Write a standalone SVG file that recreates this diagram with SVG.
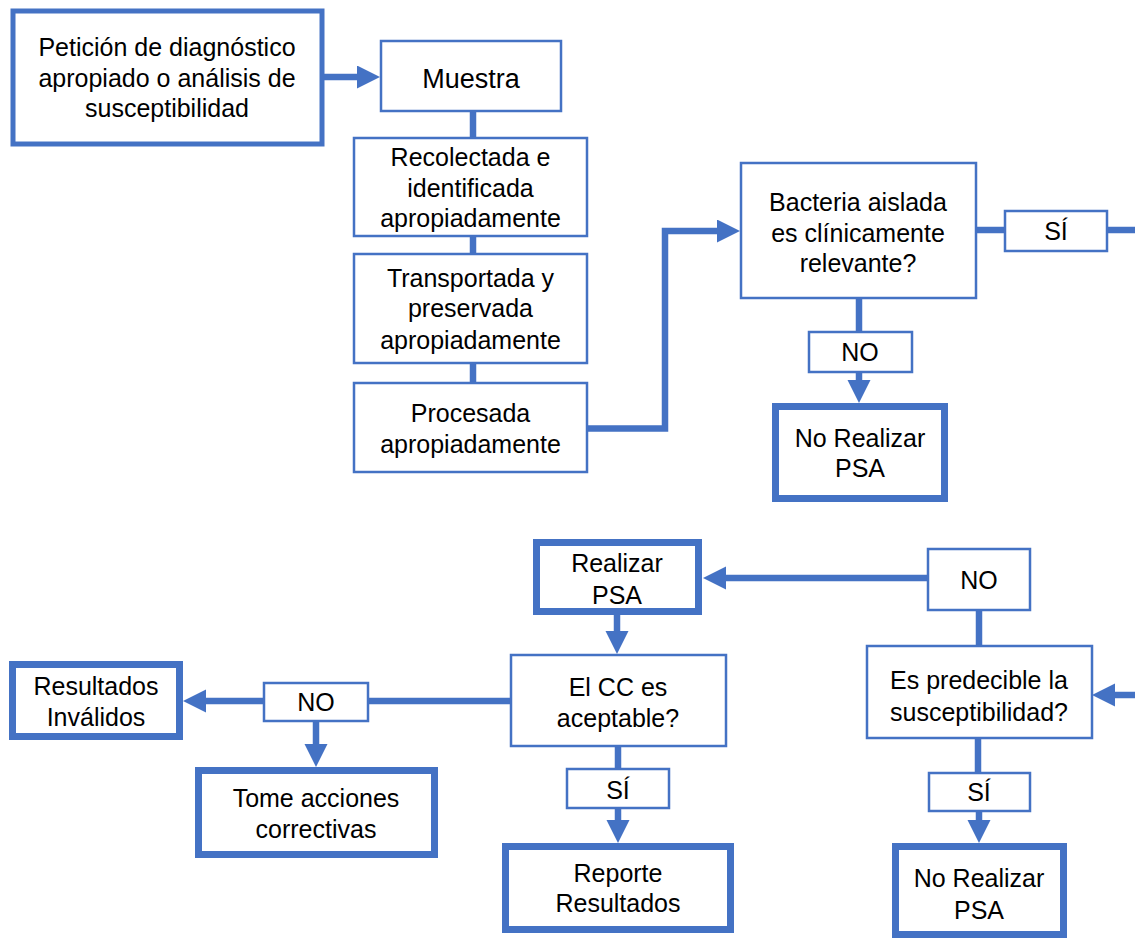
<svg xmlns="http://www.w3.org/2000/svg" width="1135" height="940" viewBox="0 0 1135 940">
<style>
.box{fill:#fff;stroke:#4472C4;stroke-width:2.5}
.thick{fill:#fff;stroke:#4472C4;stroke-width:7}
.first{fill:#fff;stroke:#4472C4;stroke-width:5}
.t{font-family:"Liberation Sans",Arial,sans-serif;font-size:25px;fill:#000;text-anchor:middle}
.c{fill:none;stroke:#4472C4;stroke-width:6.5;stroke-linecap:butt;stroke-linejoin:miter}
</style>
<defs>
<marker id="ah" markerUnits="userSpaceOnUse" markerWidth="24" markerHeight="24" refX="0" refY="11.5" orient="auto">
<path d="M0,0 L23,11.5 L0,23 z" fill="#4472C4"/>
</marker>
</defs>
<g id="connectors">
<path class="c" d="M324,77 H357" marker-end="url(#ah)"/>
<path class="c" d="M473,112 V138"/>
<path class="c" d="M473,236 V254"/>
<path class="c" d="M473,363 V383"/>
<path class="c" d="M588,428.5 H665 V231 H717" marker-end="url(#ah)"/>
<path class="c" d="M976,230 H1005"/>
<path class="c" d="M1107,230 H1135"/>
<path class="c" d="M859,298 V332"/>
<path class="c" d="M859,372 V380" marker-end="url(#ah)"/>
<path class="c" d="M928,578 H726" marker-end="url(#ah)"/>
<path class="c" d="M979,610 V646"/>
<path class="c" d="M1135,695 H1115" marker-end="url(#ah)"/>
<path class="c" d="M617,615 V631" marker-end="url(#ah)"/>
<path class="c" d="M511,701 H368"/>
<path class="c" d="M264,701 H206" marker-end="url(#ah)"/>
<path class="c" d="M316,721 V744" marker-end="url(#ah)"/>
<path class="c" d="M618,746 V769"/>
<path class="c" d="M618,808 V820" marker-end="url(#ah)"/>
<path class="c" d="M978,738 V773"/>
<path class="c" d="M979,811 V820" marker-end="url(#ah)"/>
</g>
<g id="peticion">
<rect class="first" x="13" y="11" width="309" height="133"/>
<text class="t" x="167" y="56">Petición de diagnóstico</text>
<text class="t" x="167" y="87">apropiado o análisis de</text>
<text class="t" x="167" y="117">susceptibilidad</text>
</g>
<g id="muestra">
<rect class="box" x="381" y="41" width="180" height="70"/>
<text class="t" x="471" y="88" style="font-size:27px">Muestra</text>
</g>
<g id="recolectada">
<rect class="box" x="354" y="138" width="233" height="98"/>
<text class="t" x="470.5" y="166">Recolectada e</text>
<text class="t" x="470.5" y="197">identificada</text>
<text class="t" x="470.5" y="227">apropiadamente</text>
</g>
<g id="transportada">
<rect class="box" x="354" y="254" width="233" height="109"/>
<text class="t" x="470.5" y="287">Transportada y</text>
<text class="t" x="470.5" y="317">preservada</text>
<text class="t" x="470.5" y="349">apropiadamente</text>
</g>
<g id="procesada">
<rect class="box" x="354" y="383" width="233" height="89"/>
<text class="t" x="470.5" y="422">Procesada</text>
<text class="t" x="470.5" y="453">apropiadamente</text>
</g>
<g id="bacteria">
<rect class="box" x="741" y="163" width="235" height="135"/>
<text class="t" x="858" y="211">Bacteria aislada</text>
<text class="t" x="858" y="242">es clínicamente</text>
<text class="t" x="858" y="272">relevante?</text>
</g>
<g id="si-top">
<rect class="box" x="1005" y="211" width="102" height="40"/>
<text class="t" x="1056" y="240">SÍ</text>
</g>
<g id="no-top">
<rect class="box" x="809" y="332" width="103" height="40"/>
<text class="t" x="860" y="361">NO</text>
</g>
<g id="no-realizar-top">
<rect class="thick" x="775.5" y="406.5" width="169" height="92"/>
<text class="t" x="860" y="447">No Realizar</text>
<text class="t" x="860" y="477">PSA</text>
</g>
<g id="realizar">
<rect class="thick" x="536.5" y="542.5" width="162" height="69"/>
<text class="t" x="617" y="572">Realizar</text>
<text class="t" x="617" y="604">PSA</text>
</g>
<g id="no-right">
<rect class="box" x="928" y="549" width="102" height="61"/>
<text class="t" x="979" y="589">NO</text>
</g>
<g id="predecible">
<rect class="box" x="867" y="646" width="225" height="92"/>
<text class="t" x="979" y="689">Es predecible la</text>
<text class="t" x="979" y="721">susceptibilidad?</text>
</g>
<g id="elcc">
<rect class="box" x="511" y="655" width="215" height="91"/>
<text class="t" x="618" y="696">El CC es</text>
<text class="t" x="618" y="727">aceptable?</text>
</g>
<g id="resultados-invalidos">
<rect class="thick" x="12.5" y="664.5" width="167" height="72"/>
<text class="t" x="96" y="695">Resultados</text>
<text class="t" x="96" y="726">Inválidos</text>
</g>
<g id="no-left">
<rect class="box" x="264" y="683" width="104" height="38"/>
<text class="t" x="316" y="711">NO</text>
</g>
<g id="tome">
<rect class="thick" x="198.5" y="770.5" width="236" height="84"/>
<text class="t" x="316" y="807">Tome acciones</text>
<text class="t" x="316" y="838">correctivas</text>
</g>
<g id="si-mid">
<rect class="box" x="567" y="769" width="102" height="39"/>
<text class="t" x="618" y="799">SÍ</text>
</g>
<g id="reporte">
<rect class="thick" x="505.5" y="846.5" width="225" height="83"/>
<text class="t" x="618" y="882">Reporte</text>
<text class="t" x="618" y="912">Resultados</text>
</g>
<g id="si-right">
<rect class="box" x="929" y="773" width="101" height="38"/>
<text class="t" x="979" y="801">SÍ</text>
</g>
<g id="no-realizar-bottom">
<rect class="thick" x="895.5" y="846.5" width="168" height="88"/>
<text class="t" x="979" y="887">No Realizar</text>
<text class="t" x="979" y="919">PSA</text>
</g>
</svg>
